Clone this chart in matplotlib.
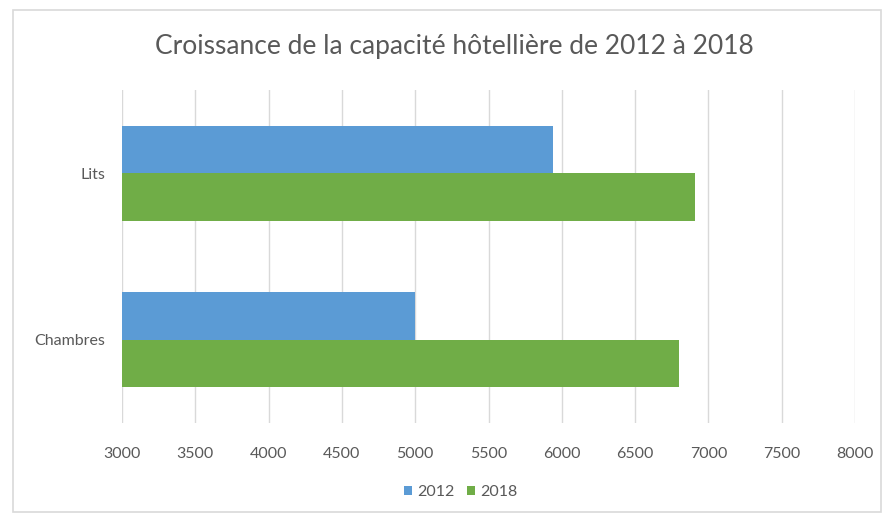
import matplotlib.pyplot as plt
import numpy as np
from matplotlib.patches import Rectangle

# donnees
categories = ["Chambres", "Lits"]
valeurs_2012 = [5000, 5940]
valeurs_2018 = [6800, 6910]
ticks_x = [3000, 3500, 4000, 4500, 5000, 5500, 6000, 6500, 7000, 7500, 8000]

bleu = "#5b9bd5"
vert = "#70ad47"
gris = "#595959"

plt.rcParams['font.family'] = ['Lato', 'DejaVu Sans']

fig = plt.figure(figsize=(8.83, 5.16), dpi=100)
ax = fig.add_axes([0.1382, 0.1802, 0.8301, 0.6454])

y = np.arange(len(categories))
h = 0.286
ax.barh(y + h / 2, valeurs_2012, height=h, left=0, color=bleu, label="2012", zorder=3)
ax.barh(y - h / 2, valeurs_2018, height=h, left=0, color=vert, label="2018", zorder=3)

ax.set_xlim(3000, 8000)
ax.set_ylim(-0.5, 1.5)
ax.set_xticks(ticks_x)
ax.set_yticks(y)
ax.set_yticklabels(categories)
ax.tick_params(axis='both', length=0, labelsize=11.5, colors=gris)
ax.tick_params(axis='y', pad=12)
ax.tick_params(axis='x', pad=17)
ax.grid(axis='x', color="#d9d9d9", linewidth=1, zorder=0)
for s in ax.spines.values():
    s.set_visible(False)

fig.suptitle("Croissance de la capacité hôtellière de 2012 à 2018", x=0.515, y=0.935,
             fontsize=19, color=gris)

leg = fig.legend(loc='center', bbox_to_anchor=(0.522, 0.047), ncol=2, frameon=False,
                 fontsize=11.5, handlelength=0.5, handleheight=0.5, handletextpad=0.3,
                 columnspacing=0.8)
for t in leg.get_texts():
    t.set_color(gris)

# cadre du graphique
fig.patches.append(Rectangle((13 / 883, 4 / 516), 868 / 883, 502 / 516, transform=fig.transFigure,
                             fill=False, edgecolor="#d9d9d9", linewidth=1.2))

fig.savefig("out.png", dpi=100)
